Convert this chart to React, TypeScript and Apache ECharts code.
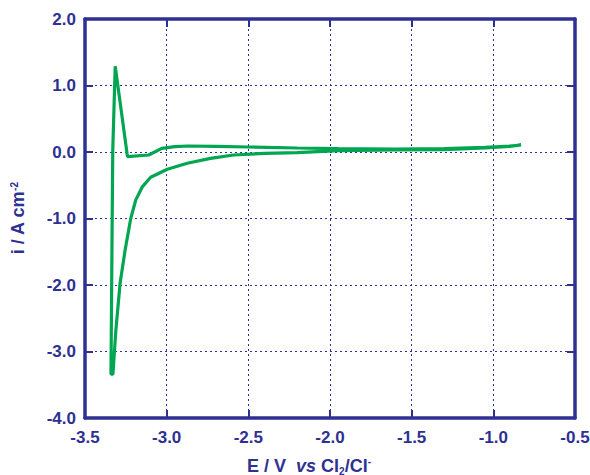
import React, { useEffect, useRef } from "react";
import * as echarts from "echarts";

const xTicks = [-3.5, -0.5];
const yTicks = [-4, 2];

// Upper branch, scanned from -0.83 V toward negative potentials
const upperE = [-0.83, -0.9, -1.05, -1.3, -1.6, -1.95, -2.2, -2.5, -2.7, -2.87, -2.95, -3.03, -3.11, -3.24, -3.315, -3.33, -3.335, -3.341];
const upperI = [0.105, 0.09, 0.07, 0.05, 0.045, 0.05, 0.06, 0.075, 0.085, 0.09, 0.08, 0.055, -0.045, -0.07, 1.29, 0.03, -1.47, -3.34];

// Lower branch, returning toward positive potentials
const lowerE = [-3.329, -3.311, -3.285, -3.254, -3.22, -3.189, -3.148, -3.098, -2.996, -2.874, -2.732, -2.591, -2.4, -2.2, -1.95, -1.6, -1.3, -1.05, -0.9, -0.83];
const lowerI = [-3.34, -2.68, -1.97, -1.47, -1.0, -0.72, -0.52, -0.38, -0.26, -0.17, -0.095, -0.045, -0.02, -0.01, 0.02, 0.03, 0.035, 0.06, 0.085, 0.105];

const NAVY = "#2E3192";
const GREEN = "#00A651";
const FONT = "'Liberation Sans', Arial, sans-serif";

export default function App() {
  const ref = useRef<HTMLDivElement>(null);
  useEffect(() => {
    if (!ref.current) return;
    const chart = echarts.init(ref.current, undefined, { renderer: "svg" });
    const data: [number, number][] = [];
    upperE.forEach((e, k) => data.push([e, upperI[k]]));
    lowerE.forEach((e, k) => data.push([e, lowerI[k]]));

    const gridLine = { show: true, lineStyle: { color: NAVY, width: 1, type: [2, 3] as any } };
    const axisLine = { show: true, onZero: false, lineStyle: { color: NAVY, width: 3.5 } };
    const axisTick = { show: true, inside: true, length: 8, lineStyle: { color: NAVY, width: 2 } };

    chart.setOption({
      animation: false,
      backgroundColor: "#ffffff",
      grid: { left: 85, right: 15, top: 19, bottom: 57, containLabel: false, outerBoundsMode: "none" },
      xAxis: [
        {
          type: "value",
          min: xTicks[0],
          max: xTicks[1],
          interval: 0.5,
          axisLine,
          axisTick,
          splitLine: gridLine,
          axisLabel: {
            color: NAVY,
            fontFamily: FONT,
            fontWeight: "bold",
            fontSize: 17,
            margin: 11,
            formatter: (v: number) => v.toFixed(1),
          },
          name: "E / V  {it|vs} Cl{sub|2}/Cl{sup|-}",
          nameLocation: "middle",
          nameGap: 38,
          nameTextStyle: {
            color: NAVY,
            fontFamily: FONT,
            fontWeight: "bold",
            fontSize: 18,
            padding: [0, 42, 0, 0],
            rich: {
              it: { fontStyle: "italic", fontWeight: "bold", fontSize: 18, color: NAVY, fontFamily: FONT },
              sub: { fontSize: 10, fontWeight: "bold", color: NAVY, fontFamily: FONT, verticalAlign: "bottom", padding: [10, 0, 0, 0] },
              sup: { fontSize: 10, fontWeight: "bold", color: NAVY, fontFamily: FONT, verticalAlign: "top", padding: [0, 0, 8, 0] },
            },
          },
        },
        {
          type: "value",
          position: "top",
          min: xTicks[0],
          max: xTicks[1],
          interval: 0.5,
          axisLine,
          axisTick,
          axisLabel: { show: false },
          splitLine: { show: false },
        },
      ],
      yAxis: [
        {
          type: "value",
          min: yTicks[0],
          max: yTicks[1],
          interval: 1,
          axisLine,
          axisTick,
          splitLine: gridLine,
          axisLabel: {
            color: NAVY,
            fontFamily: FONT,
            fontWeight: "bold",
            fontSize: 17,
            margin: 9,
            formatter: (v: number) => v.toFixed(1),
          },
          name: "i / A cm{sup|-2}",
          nameLocation: "middle",
          nameGap: 58,
          nameRotate: 90,
          nameTextStyle: {
            color: NAVY,
            fontFamily: FONT,
            fontWeight: "bold",
            fontSize: 18,
            rich: {
              sup: { fontSize: 10, fontWeight: "bold", color: NAVY, fontFamily: FONT, verticalAlign: "top", padding: [0, 0, 8, 0] },
            },
          },
        },
        {
          type: "value",
          position: "right",
          min: yTicks[0],
          max: yTicks[1],
          interval: 1,
          axisLine,
          axisTick,
          axisLabel: { show: false },
          splitLine: { show: false },
        },
      ],
      series: [
        {
          type: "line",
          data,
          showSymbol: false,
          symbol: "none",
          lineStyle: { color: GREEN, width: 3.2 },
          xAxisIndex: 0,
          yAxisIndex: 0,
        },
      ],
    });
    return () => chart.dispose();
  }, []);
  return <div ref={ref} style={{ width: 590, height: 475, position: "absolute", left: 0, top: 0 }} />;
}
